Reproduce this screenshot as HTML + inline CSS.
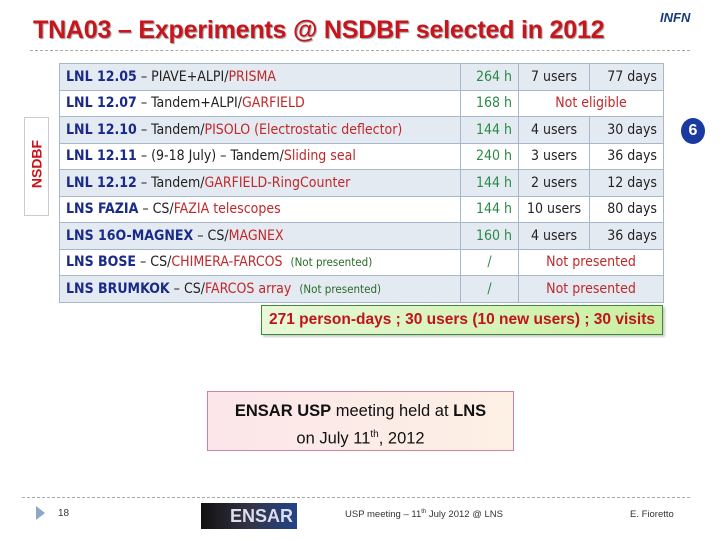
<!DOCTYPE html>
<html><head><meta charset="utf-8"><style>
body{margin:0;width:720px;height:540px;background:#fff;position:relative;overflow:hidden;font-family:"Liberation Sans",sans-serif}
.abs{position:absolute}
table{border-collapse:collapse;position:absolute;left:59px;top:63px;width:604px;table-layout:fixed;font-family:"DejaVu Sans Condensed","Liberation Sans Narrow","Liberation Sans",sans-serif;font-size:14px;color:#222}
td{border:1px solid #a8b8cc;height:25.5px;padding:0 0 0 6px;white-space:nowrap;overflow:hidden}
tr:nth-child(odd) td{background:#e4eaf1}
.b{color:#1a2a8a;font-weight:bold}.r{color:#c0282a}.g{color:#2a8a4a}.n{font-size:11.5px;color:#2a6a2a}
.c{text-align:center;padding:0}.rt{text-align:right;padding-right:6px}
</style></head><body>
<div class="abs" style="left:33px;top:16px;font-size:25px;font-weight:bold;color:#c8151b;text-shadow:1px 1px 1px #999;letter-spacing:-0.2px">TNA03 – Experiments @ NSDBF selected in 2012</div>
<div class="abs" style="left:30px;top:50px;width:660px;border-top:1px dashed #aaa"></div>
<div class="abs" style="left:660px;top:10px;font-size:13px;font-style:italic;font-weight:bold;color:#1a3a7a">INFN</div>
<div class="abs" style="left:24px;top:117px;width:23px;height:97px;border:1px solid #ccc;background:#fff">
<div style="position:absolute;left:-36px;top:38px;width:95px;transform:rotate(-90deg);text-align:center;color:#c8151b;font-weight:bold;font-size:14px">NSDBF</div></div>
<table>
<colgroup><col style="width:401px"><col style="width:58px"><col style="width:71px"><col style="width:74px"></colgroup>
<tr><td><span class="b">LNL 12.05</span> – PIAVE+ALPI/<span class="r">PRISMA</span></td><td class="rt g">264 h</td><td class="c">7 users</td><td class="rt">77 days</td></tr>
<tr><td><span class="b">LNL 12.07</span> – Tandem+ALPI/<span class="r">GARFIELD</span></td><td class="rt g">168 h</td><td class="c r" colspan="2">Not eligible</td></tr>
<tr><td><span class="b">LNL 12.10</span> – Tandem/<span class="r">PISOLO (Electrostatic deflector)</span></td><td class="rt g">144 h</td><td class="c">4 users</td><td class="rt">30 days</td></tr>
<tr><td><span class="b">LNL 12.11</span> – (9-18 July) – Tandem/<span class="r">Sliding seal</span></td><td class="rt g">240 h</td><td class="c">3 users</td><td class="rt">36 days</td></tr>
<tr><td><span class="b">LNL 12.12</span> – Tandem/<span class="r">GARFIELD-RingCounter</span></td><td class="rt g">144 h</td><td class="c">2 users</td><td class="rt">12 days</td></tr>
<tr><td><span class="b">LNS FAZIA</span> – CS/<span class="r">FAZIA telescopes</span></td><td class="rt g">144 h</td><td class="c">10 users</td><td class="rt">80 days</td></tr>
<tr><td><span class="b">LNS 16O-MAGNEX</span> – CS/<span class="r">MAGNEX</span></td><td class="rt g">160 h</td><td class="c">4 users</td><td class="rt">36 days</td></tr>
<tr><td><span class="b">LNS BOSE</span> – CS/<span class="r">CHIMERA-FARCOS</span> &nbsp;<span class="n">(Not presented)</span></td><td class="c g">/</td><td class="c r" colspan="2">Not presented</td></tr>
<tr><td><span class="b">LNS BRUMKOK</span> – CS/<span class="r">FARCOS array</span> &nbsp;<span class="n">(Not presented)</span></td><td class="c g">/</td><td class="c r" colspan="2">Not presented</td></tr>
</table>
<div class="abs" style="left:681px;top:118px;width:24px;height:26px;border-radius:50%;background:#1a3aa0;color:#fff;font-weight:bold;font-size:16px;text-align:center;line-height:26px">6</div>
<div class="abs" style="left:261px;top:305px;width:400px;height:28px;border:1px solid #3a8a3a;background:linear-gradient(90deg,#e8f8d8,#c8f0a0);box-shadow:2px 2px 2px #ccc;color:#c0141a;font-weight:bold;font-size:15.5px;line-height:28px;text-align:center;white-space:nowrap;font-family:'Liberation Sans Narrow','Liberation Sans',sans-serif">271 person-days ; 30 users (10 new users) ; 30 visits</div>
<div class="abs" style="left:207px;top:391px;width:307px;height:60px;border:1px solid #d080a0;background:linear-gradient(90deg,#fbe6ea,#fdf0e4);text-align:center;font-size:16.5px;line-height:23px;padding-top:8px;box-sizing:border-box;color:#111;font-family:'Liberation Sans Narrow','Liberation Sans',sans-serif"><b>ENSAR USP</b> meeting held at <b>LNS</b><br>on July 11<sup style="font-size:10px">th</sup>, 2012</div>
<div class="abs" style="left:22px;top:497px;width:668px;border-top:1px dashed #aaa"></div>
<div class="abs" style="left:36px;top:506px;width:0;height:0;border-left:9px solid #8aa8c8;border-top:7px solid transparent;border-bottom:7px solid transparent"></div>
<div class="abs" style="left:58px;top:508px;font-size:10px;color:#333">18</div>
<div class="abs" style="left:201px;top:503px;width:96px;height:26px;background:linear-gradient(90deg,#111,#334,#224488);color:#dde;font-weight:bold;font-size:18px;text-align:right;line-height:26px;padding-right:4px;box-sizing:border-box">ENSAR</div>
<div class="abs" style="left:345px;top:509px;font-size:9.5px;color:#333">USP meeting – 11<sup style="font-size:6px">th</sup> July 2012 @ LNS</div>
<div class="abs" style="left:630px;top:509px;font-size:9.5px;color:#333">E. Fioretto</div>
</body></html>
